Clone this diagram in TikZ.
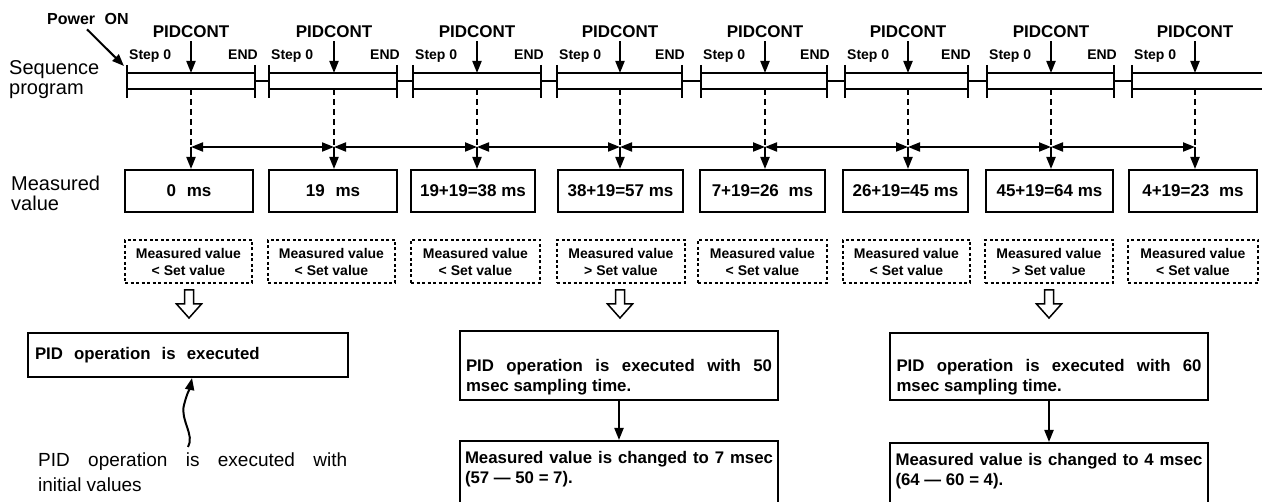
\documentclass[tikz,border=0pt]{standalone}
\usepackage{fontspec}
\setmainfont{Liberation Sans}
\usetikzlibrary{arrows.meta}
\tikzset{
  hollowarrow/.pic={\draw[line width=1.5pt, line join=miter, fill=white] (-4.5,0) -- (4.5,0) -- (4.5,14) -- (12.5,14) -- (0,28) -- (-12.5,14) -- (-4.5,14) -- cycle;}
}
\begin{document}
\begin{tikzpicture}[x=1pt,y=-1pt,
  every node/.style={inner sep=0pt},
  biglbl/.style={font=\fontsize{20}{20}\selectfont, align=left, anchor=north west},
  pidc/.style={font=\bfseries\fontsize{17}{17}\selectfont, anchor=base},
  tinylbl/.style={font=\bfseries\fontsize{14}{14}\selectfont},
  barline/.style={line width=2pt},
  arr/.style={-{Triangle[length=12pt,width=9pt]}, line width=2pt},
  darr/.style={{Triangle[length=12pt,width=9pt]}-{Triangle[length=12pt,width=9pt]}, line width=2pt},
  vdash/.style={line width=2pt, dash pattern=on 6pt off 4pt},
  mbox/.style={draw, line width=2pt, minimum height=42pt, font=\bfseries\fontsize{17}{17}\selectfont},
  cbox/.style={draw, line width=1.5pt, dash pattern=on 3pt off 2.5pt, minimum height=43pt, align=center, font=\bfseries\fontsize{14}{17}\selectfont},
  pbox/.style={draw, line width=2pt, font=\bfseries\fontsize{16.8}{20}\selectfont},
]
\fill[white] (0,0) rectangle (1262,502);
\useasboundingbox (0,0) rectangle (1262,502);

% row labels
\node[biglbl] (seq) at (9,60.5) {Sequence\\program};
\node[biglbl] (mvl) at (11,175.5) {Measured\\value};

% power on
\node[font=\bfseries\fontsize{16}{16}\selectfont, anchor=base west] (pw) at (47,25) {Power\hspace{5pt} ON};
\coordinate (pwend) at (124,66);
\draw[arr] ([xshift=40pt,yshift=-4pt]pw.south west) -- (pwend);

% sequence program bars
\foreach \i/\l/\r in {1/127/255, 2/269/397, 3/413/541, 4/557/682, 5/701/827, 6/845/968, 7/987/1114}{
  \draw[barline] (\l,65) -- (\l,98) (\r,65) -- (\r,98) (\l,73) -- (\r,73) (\l,89) -- (\r,89);
  \node[tinylbl, anchor=base west] (st\i) at (\l+2,60) {Step 0};
  \node[tinylbl, anchor=base east] (en\i) at (\r+3,60) {END};
}
\draw[barline] (1132,65) -- (1132,98) (1132,73) -- (1262,73) (1132,89) -- (1262,89);
\node[tinylbl, anchor=base west] (st8) at (1134,60) {Step 0};
\foreach \r/\l in {255/269, 397/413, 541/557, 682/701, 827/845, 968/987, 1114/1132}{
  \draw[barline] (\r,81) -- (\l,81);
}

% PIDCONT arrows, dashed drops, timeline points
\foreach \i/\a in {1/191, 2/334, 3/477, 4/620, 5/765, 6/908, 7/1051, 8/1195}{
  \node[pidc] (pc\i) at (\a,38) {PIDCONT};
  \coordinate (tp\i) at (\a,73);
  \coordinate (bt\i) at (\a,89);
  \coordinate (tl\i) at (\a,147);
  \draw[arr] ([yshift=-3pt]pc\i.south) -- (tp\i);
  \draw[vdash] (bt\i) -- (tl\i);
}
\foreach \i [evaluate=\i as \j using int(\i+1)] in {1,...,7}{
  \draw[darr] (tl\i) -- (tl\j);
}

% measured value boxes
\foreach \i/\cx/\w/\t in {1/189/128/{0\hspace{6pt} ms}, 2/333/128/{19\hspace{6pt} ms}, 3/473/124/{19+19=38 ms}, 4/620.5/125/{38+19=57 ms}, 5/762.5/125/{7+19=26\hspace{5pt} ms}, 6/905.5/125/{26+19=45 ms}, 7/1049.5/127/{45+19=64 ms}, 8/1193/128/{4+19=23\hspace{5pt} ms}}{
  \node[mbox, minimum width=\w pt] (m\i) at (\cx,191) {\t};
  \draw[arr] (tl\i) -- (tl\i |- m\i.north);
}

% comparison boxes
\foreach \i/\cx/\w/\s in {1/188.5/127/<, 2/331.5/127/<, 3/475.5/129/<, 4/621/128/>, 5/762.5/129/<, 6/906.5/127/<, 7/1049/128/>, 8/1193/130/<}{
  \node[cbox, minimum width=\w pt] (c\i) at (\cx,261.5) {Measured value\\\s{} Set value};
}

% hollow arrows
\pic at (189,290) {hollowarrow};
\pic at (620,290) {hollowarrow};
\pic at (1049,290) {hollowarrow};

% result boxes
\node[pbox, minimum width=320pt, minimum height=44pt, text width=306pt, align=left] (A) at (188,355) {PID\hspace{5.5pt} operation\hspace{5.5pt} is\hspace{5.5pt} executed};

\node[pbox, minimum width=318pt, inner ysep=5pt] (B) at (619,365.5)
  {\parbox[t][55pt][b]{306pt}{PID operation is executed with 50\linebreak msec sampling time.}};
\node[pbox, minimum width=318pt, inner ysep=5pt] (C) at (1049,366.5)
  {\parbox[t][53pt][b]{305pt}{PID operation is executed with 60\linebreak msec sampling time.}};

\node[pbox, minimum width=318pt, anchor=north, inner ysep=10pt] (D) at (619,440)
  {\parbox[t][70pt][t]{308pt}{Measured value is changed to 7 msec\linebreak (57 — 50 = 7).}};
\node[pbox, minimum width=318pt, anchor=north, inner ysep=10pt] (E) at (1049,442)
  {\parbox[t][70pt][t]{307pt}{Measured value is changed to 4 msec\linebreak (64 — 60 = 4).}};

\draw[arr] (B.south) -- (D.north);
\draw[arr] (C.south) -- (E.north);

% annotation
\node[font=\fontsize{19}{25}\selectfont, anchor=north west, text width=309pt, align=justify] (note) at (38,453)
  {PID operation is executed with\linebreak initial values};
\draw[arr] ([xshift=150pt,yshift=6pt]note.north west) .. controls (195,435) and (180,420) .. (184,405)
  .. controls (187,393) and (190,388) .. ([xshift=4pt]A.south);
\end{tikzpicture}
\end{document}
